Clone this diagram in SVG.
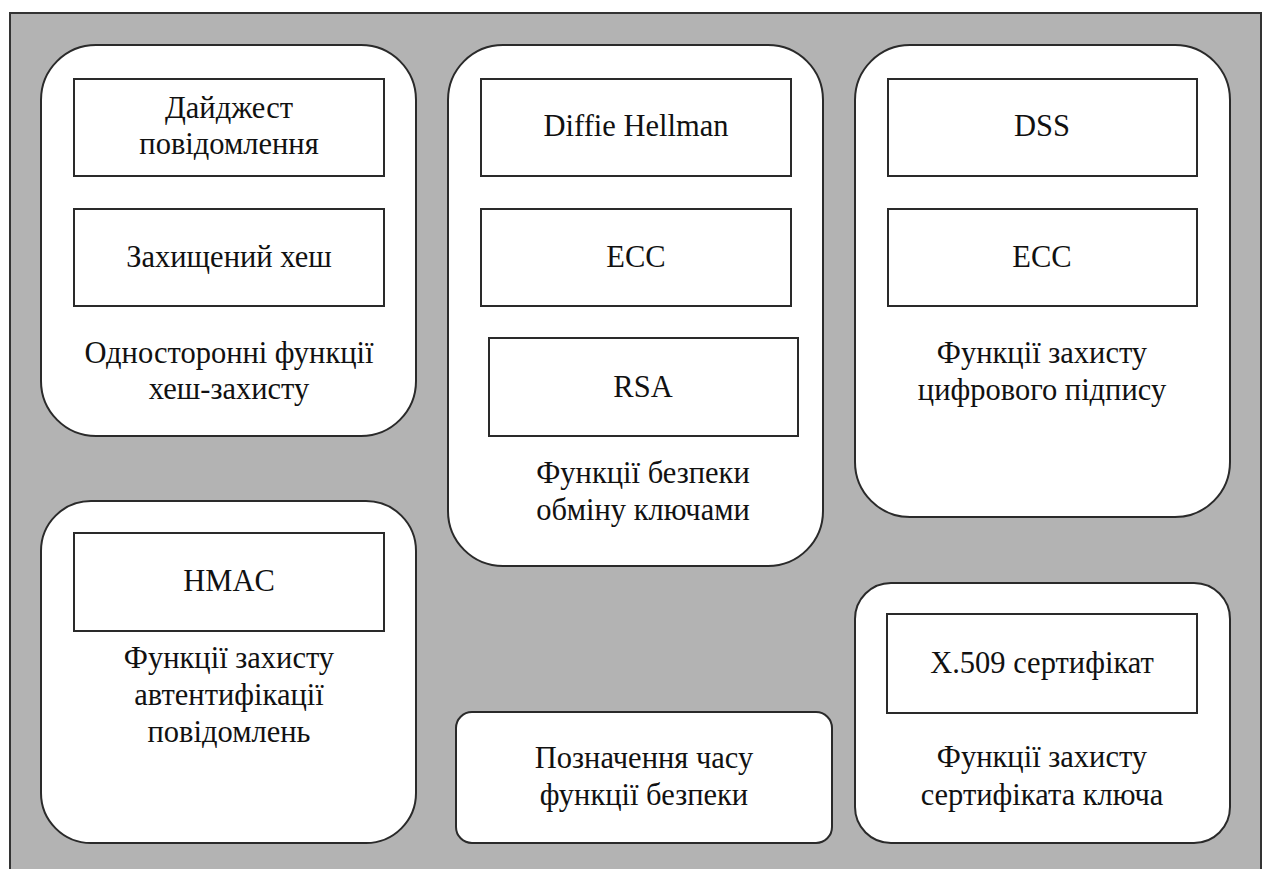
<svg xmlns="http://www.w3.org/2000/svg" width="1267" height="869" viewBox="0 0 1267 869">
  <style>
    .frame { fill: #b3b3b3; stroke: #333333; stroke-width: 2; }
    .group { fill: #ffffff; stroke: #2a2a2a; stroke-width: 2; }
    .item { fill: #ffffff; stroke: #2a2a2a; stroke-width: 2; }
    .label { font-family: 'Liberation Serif', 'DejaVu Serif', serif; font-size: 30.5px; fill: #111111; text-anchor: middle; }
  </style>

  <!-- background panel -->
  <rect class="frame" x="10" y="13" width="1251" height="880"/>

  <!-- one-way hash functions -->
  <g id="hash-group">
    <rect class="group" x="41" y="45" width="375" height="391" rx="55" ry="55"/>
    <g id="digest">
      <rect class="item" x="74" y="79" width="310" height="97"/>
      <text class="label" x="229" y="118">Дайджест</text>
      <text class="label" x="229" y="154">повідомлення</text>
    </g>
    <g id="secure-hash">
      <rect class="item" x="74" y="209" width="310" height="97"/>
      <text class="label" x="229" y="267">Захищений хеш</text>
    </g>
    <text class="label" x="229" y="363">Односторонні функції</text>
    <text class="label" x="229" y="399">хеш-захисту</text>
  </g>

  <!-- key exchange functions -->
  <g id="key-exchange-group">
    <rect class="group" x="448" y="45" width="375" height="521" rx="55" ry="55"/>
    <g id="diffie-hellman">
      <rect class="item" x="481" y="79" width="310" height="97"/>
      <text class="label" x="636" y="136">Diffie Hellman</text>
    </g>
    <g id="ecc-exchange">
      <rect class="item" x="481" y="209" width="310" height="97"/>
      <text class="label" x="636" y="267">ECC</text>
    </g>
    <g id="rsa">
      <rect class="item" x="489" y="338" width="309" height="98"/>
      <text class="label" x="643" y="397">RSA</text>
    </g>
    <text class="label" x="643" y="483">Функції безпеки</text>
    <text class="label" x="643" y="520">обміну ключами</text>
  </g>

  <!-- digital signature functions -->
  <g id="signature-group">
    <rect class="group" x="855" y="45" width="375" height="472" rx="55" ry="55"/>
    <g id="dss">
      <rect class="item" x="888" y="79" width="309" height="97"/>
      <text class="label" x="1042" y="136">DSS</text>
    </g>
    <g id="ecc-signature">
      <rect class="item" x="888" y="209" width="309" height="97"/>
      <text class="label" x="1042" y="267">ECC</text>
    </g>
    <text class="label" x="1042" y="363">Функції захисту</text>
    <text class="label" x="1042" y="400">цифрового підпису</text>
  </g>

  <!-- message authentication functions -->
  <g id="mac-group">
    <rect class="group" x="41" y="501" width="375" height="342" rx="50" ry="50"/>
    <g id="hmac">
      <rect class="item" x="74" y="533" width="310" height="98"/>
      <text class="label" x="229" y="591">HMAC</text>
    </g>
    <text class="label" x="229" y="668">Функції захисту</text>
    <text class="label" x="229" y="705">автентифікації</text>
    <text class="label" x="229" y="742">повідомлень</text>
  </g>

  <!-- timestamping -->
  <g id="timestamp-group">
    <rect class="group" x="456" y="712" width="376" height="131" rx="16" ry="16"/>
    <text class="label" x="644" y="768">Позначення часу</text>
    <text class="label" x="644" y="805">функції безпеки</text>
  </g>

  <!-- key certificate functions -->
  <g id="certificate-group">
    <rect class="group" x="855" y="583" width="375" height="260" rx="36" ry="36"/>
    <g id="x509">
      <rect class="item" x="887" y="614" width="310" height="99"/>
      <text class="label" x="1042" y="673">X.509 сертифікат</text>
    </g>
    <text class="label" x="1042" y="767">Функції захисту</text>
    <text class="label" x="1042" y="805">сертифіката ключа</text>
  </g>

  <!-- no connectors between the groups -->
  <g id="connectors"/>
</svg>
